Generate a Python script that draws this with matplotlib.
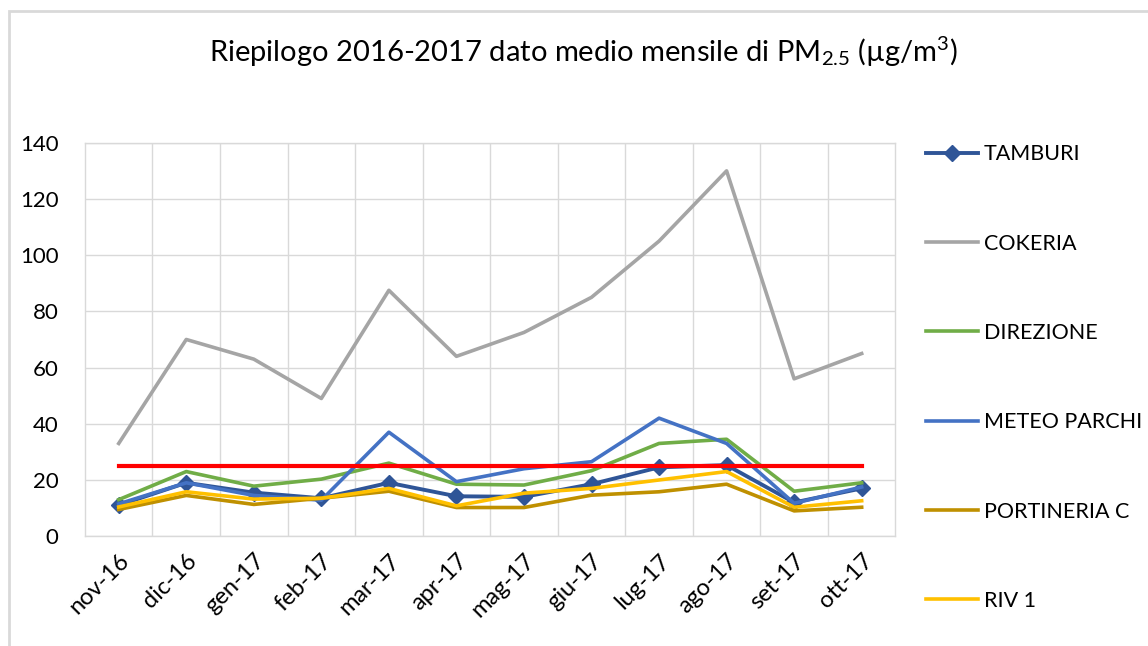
import matplotlib
matplotlib.use('Agg')
import matplotlib.pyplot as plt
from matplotlib.patches import Rectangle

plt.rcParams['font.family'] = ['Lato', 'DejaVu Sans']
plt.rcParams['mathtext.fontset'] = 'custom'
plt.rcParams['mathtext.rm'] = 'Lato'
plt.rcParams['mathtext.default'] = 'regular'

months = ['nov-16', 'dic-16', 'gen-17', 'feb-17', 'mar-17', 'apr-17',
          'mag-17', 'giu-17', 'lug-17', 'ago-17', 'set-17', 'ott-17']

tamburi = [11, 19, 15.5, 13.5, 19, 14.2, 14, 18.5, 24.5, 25.3, 12, 17]
cokeria = [33, 70, 63, 49, 87.5, 64, 72.5, 85, 105, 130, 56, 65]
direzione = [13, 23, 17.8, 20.3, 26, 18.5, 18.2, 23.3, 33, 34.5, 16, 19]
meteo_parchi = [11.5, 19, 14.5, 12.8, 37, 19.4, 24, 26.5, 42, 33, 11.7, 17.5]
portineria_c = [9.5, 14.5, 11.3, 13.5, 16, 10.2, 10.2, 14.6, 15.8, 18.5, 9, 10.3]
riv_1 = [10.4, 15.8, 13.2, 13.5, 17, 10.8, 15.3, 17, 20, 23, 10.3, 12.6]
limite = [25] * 12

series = [
    ('TAMBURI', tamburi, '#2F5597'),
    ('COKERIA', cokeria, '#A5A5A5'),
    ('DIREZIONE', direzione, '#70AD47'),
    ('METEO PARCHI', meteo_parchi, '#4472C4'),
    ('PORTINERIA C', portineria_c, '#BF9000'),
    ('RIV 1', riv_1, '#FFC000'),
]

fig = plt.figure(figsize=(11.48, 6.46), dpi=100)
ax = fig.add_axes([0.074, 0.170, 0.706, 0.609])

x = list(range(len(months)))
for name, vals, color in series:
    if name == 'TAMBURI':
        ax.plot(x, vals, color=color, lw=2.8, marker='D', markersize=8,
                label=name, zorder=3)
    else:
        ax.plot(x, vals, color=color, lw=2.6, label=name, zorder=3)
ax.plot(x, limite, color='#FF0000', lw=3, label='_limite', zorder=4)

ax.set_xlim(-0.5, len(months) - 0.5)
ax.set_ylim(0, 140)
ax.set_yticks(range(0, 141, 20))
ax.set_xticks(x)
ax.set_xticklabels(months, rotation=45, ha='right', rotation_mode='anchor',
                   fontsize=17)
ax.set_xticks([i + 0.5 for i in x[:-1]], minor=True)
ax.tick_params(axis='y', labelsize=16, length=0, pad=19)
ax.tick_params(axis='x', which='both', length=0, pad=10)
ax.grid(True, axis='y', color='#D9D9D9', lw=1.0)
ax.grid(True, axis='x', which='minor', color='#D9D9D9', lw=1.0)
for s in ax.spines.values():
    s.set_color('#D9D9D9')
    s.set_linewidth(1.0)
ax.set_axisbelow(True)

fig.text(0.508, 0.92, 'Riepilogo 2016-2017 dato medio mensile di PM$_{2.5}$ (µg/m$^{3}$)',
         ha='center', va='center', fontsize=21, color='#000000')

fig.legend(loc='upper left', bbox_to_anchor=(0.799, 0.790), frameon=False,
           fontsize=15.5, handlelength=2.42, handletextpad=0.28, labelspacing=3.22,
           borderaxespad=0)

fig.patches.append(Rectangle((0.008, -0.1), 1.2, 1.083, transform=fig.transFigure,
                             fill=False, edgecolor='#D9D9D9', lw=2))

fig.savefig('out.png', dpi=100)
